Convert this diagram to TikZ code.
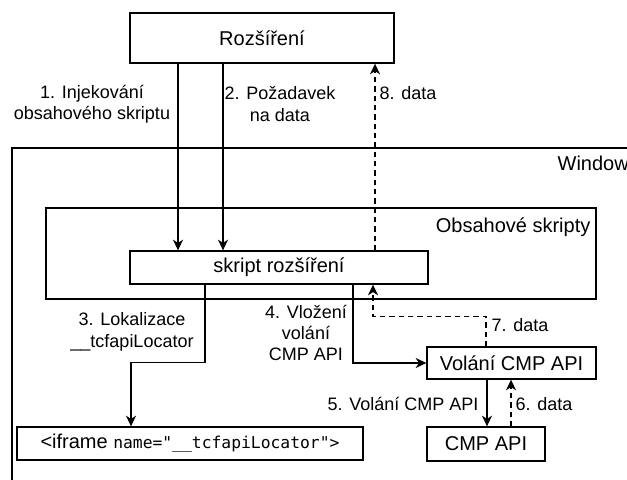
\documentclass[tikz,border=0pt]{standalone}
\usepackage{fontspec}
\setmainfont{Liberation Sans}
\setmonofont{DejaVu Sans Mono}
\usetikzlibrary{arrows.meta,positioning,calc}
\newcommand{\bxfont}{\fontsize{15}{18}\selectfont}
\newcommand{\lbfont}{\fontsize{13.5}{16}\selectfont}

\begin{document}
\begin{tikzpicture}[x=0.75pt, y=-0.75pt, line width=1pt,
    box/.style={draw, inner sep=0pt, font=\bxfont},
    lbl/.style={inner sep=0pt, font=\lbfont, align=center},
    arr/.style={-{Stealth[length=8pt, width=7.5pt, inset=2.5pt]}},
    dsh/.style={arr, dash pattern=on 4pt off 3pt}]
  \clip (0,0) rectangle (627,479);
  % outer frames
  \draw (12,148) rectangle (700,540);
  \node[lbl, font=\bxfont, anchor=west] (win) at (557,163) {Window};
  \node[box, minimum width=412.5pt, minimum height=68.25pt] (cs) at (321,253.5) {};
  \node[lbl, font=\bxfont, anchor=east] (cslbl) at (591,227) {Obsahové skripty};
  % boxes
  \node[box, minimum width=198pt, minimum height=37.5pt] (ext) at (262,38) {Rozšíření};
  \node[box, minimum width=223.5pt, minimum height=24.75pt] (sr) at (279,267.5) {skript rozšíření};
  \node[box, minimum width=126.75pt, minimum height=24pt] (call) at (511.5,363) {Volání CMP API};
  \node[box, minimum width=88.5pt, minimum height=25.5pt] (cmp) at (486,444) {CMP API};
  \node[box, minimum width=259.5pt, minimum height=24.75pt] (ifr) at (190,443.5)
    {<iframe {\ttfamily\fontsize{12.25}{15}\selectfont name="\_\_tcfapiLocator">}};
  % connectors
  \draw[arr] (ext.south -| 178,0) -- (sr.north -| 178,0);
  \draw[arr] (ext.south -| 223,0) -- (sr.north -| 223,0);
  \draw[dsh] (sr.north -| 375,0) -- (ext.south -| 375,0);
  \draw[arr] (sr.south -| 205,0) -- ++(0,78) -| (ifr.north -| 131,0);
  \draw[arr] (sr.south -| 353,0) |- (call.west);
  \draw[dsh] (call.north -| 486,0) -- ++(0,-30) -| (sr.south -| 373,0);
  \draw[arr] (call.south -| 487,0) -- (cmp.north -| 487,0);
  \draw[dsh] (cmp.north -| 511,0) -- (call.south -| 511,0);
  % labels
  \node[lbl] (l1) at (92,104) {1. Injekování\\obsahového skriptu};
  \node[lbl] (l2) at (280,104) {2. Požadavek\\na data};
  \node[lbl, anchor=west] (l8) at (379,93) {8. data};
  \node[lbl] (l3) at (132,332) {3. Lokalizace\\\_\_tcfapiLocator};
  \node[lbl] (l4) at (306,333) {4. Vložení\\volání\\CMP API};
  \node[lbl, anchor=west] (l7) at (491,325) {7. data};
  \node[lbl, anchor=east] (l5) at (479,404) {5. Volání CMP API};
  \node[lbl, anchor=west] (l6) at (515,404) {6. data};
\end{tikzpicture}
\end{document}
